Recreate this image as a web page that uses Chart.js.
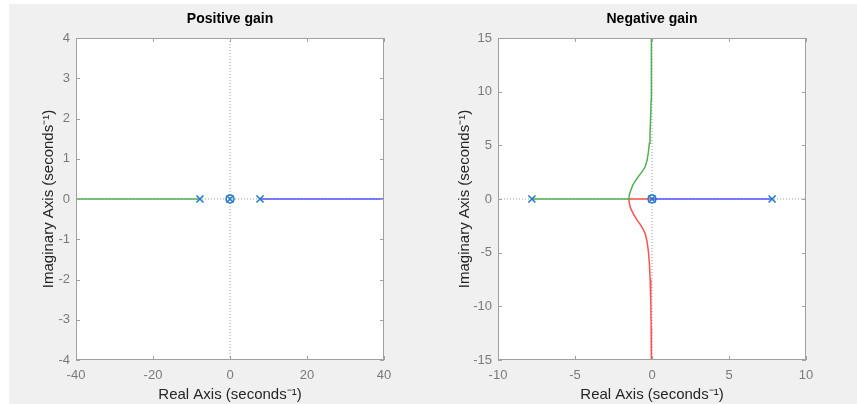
<!DOCTYPE html>
<html><head><meta charset="utf-8">
<script src="https://cdn.jsdelivr.net/npm/chart.js@4.4.1/dist/chart.umd.min.js"></script>
<style>
html,body{margin:0;padding:0;background:#fff;overflow:hidden;}
#bg{position:absolute;left:9px;top:4px;width:848px;height:400px;background:#f0f0f0;}
canvas{position:absolute;top:4px;}
#c1{left:9px;}
#c2{left:430px;}
</style></head><body>
<div id="bg"></div>
<canvas id="c1" width="421" height="400"></canvas>
<canvas id="c2" width="427" height="400"></canvas>
<script>
// ---- Data ----
const posTitle = 'Positive gain';
const negTitle = 'Negative gain';
const xAxisTitle = 'Real Axis (seconds\u207B\u00B9)';
const yAxisTitle = 'Imaginary Axis (seconds\u207B\u00B9)';

const posXTicks = [-40, -20, 0, 20, 40];
const posYTicks = [-4, -3, -2, -1, 0, 1, 2, 3, 4];
const negXTicks = [-10, -5, 0, 5, 10];
const negYTicks = [-15, -10, -5, 0, 5, 10, 15];

// Positive gain branches
const posGreenX = [-7.8, -40];
const posGreenY = [0, 0];
const posBlueX = [7.8, 40];
const posBlueY = [0, 0];
const posPoleX = [-7.8, 0, 7.8];
const posPoleY = [0, 0, 0];
const posZeroX = [0];
const posZeroY = [0];

// Negative gain branches
const negGreenX = [-7.8, -1.5, -1.47, -1.38, -1.25, -1.05, -0.85, -0.62, -0.45, -0.32, -0.24, -0.17, -0.13, -0.09, -0.06, -0.045, -0.035];
const negGreenY = [0, 0, 0.4, 0.8, 1.3, 1.75, 2.15, 2.6, 3.0, 3.6, 4.3, 5.2, 6.1, 7.5, 9.2, 12, 15];
const negRedX = [0, -1.5, -1.47, -1.38, -1.2, -1.0, -0.8, -0.6, -0.45, -0.33, -0.24, -0.17, -0.12, -0.08, -0.055, -0.04];
const negRedY = [0, 0, -0.4, -0.9, -1.4, -1.9, -2.3, -2.75, -3.2, -3.9, -4.8, -6, -7.5, -9.5, -12, -15];
const negBlueX = [7.8, 0];
const negBlueY = [0, 0];
const negPoleX = [-7.8, 0, 7.8];
const negPoleY = [0, 0, 0];
const negZeroX = [0];
const negZeroY = [0];

// ---- Helpers ----
const FONT = "'Liberation Sans', Arial, Helvetica, sans-serif";
const pts = (xs, ys) => xs.map((x, i) => ({x: x, y: ys[i]}));

const framePlugin = {
  id: 'frame',
  beforeDraw(chart) {
    const a = chart.chartArea, ctx = chart.ctx;
    ctx.save();
    ctx.fillStyle = '#ffffff';
    ctx.fillRect(a.left, a.top, a.right - a.left, a.bottom - a.top);
    ctx.restore();
  },
  afterDraw(chart) {
    const a = chart.chartArea, ctx = chart.ctx;
    const xs = chart.scales.x, ys = chart.scales.y;
    ctx.save();
    ctx.strokeStyle = '#a0a0a0';
    ctx.lineWidth = 1;
    ctx.beginPath();
    xs.ticks.forEach(t => {
      const p = Math.round(xs.getPixelForValue(t.value)) + 0.5;
      ctx.moveTo(p, a.bottom); ctx.lineTo(p, a.bottom - 4);
      ctx.moveTo(p, a.top); ctx.lineTo(p, a.top + 4);
    });
    ys.ticks.forEach(t => {
      const p = Math.round(ys.getPixelForValue(t.value)) + 0.5;
      ctx.moveTo(a.left, p); ctx.lineTo(a.left + 4, p);
      ctx.moveTo(a.right, p); ctx.lineTo(a.right - 4, p);
    });
    ctx.stroke();
    ctx.strokeRect(Math.round(a.left) + 0.5, Math.round(a.top) + 0.5,
      Math.round(a.right - a.left) - 1, Math.round(a.bottom - a.top) - 1);
    ctx.restore();
  }
};

function makeChart(id, cfg) {
  const xmin = cfg.xTicks[0], xmax = cfg.xTicks[cfg.xTicks.length - 1];
  const ymin = cfg.yTicks[0], ymax = cfg.yTicks[cfg.yTicks.length - 1];
  const lineDs = (data, color) => ({
    data: data, showLine: true, borderColor: color, borderWidth: 1.5,
    pointRadius: 0, fill: false, tension: 0, order: 5
  });
  const datasets = [
    {data: [{x: 0, y: ymin}, {x: 0, y: ymax}], showLine: true, borderColor: '#9a9a9a',
     borderWidth: 1, borderDash: [1, 2], pointRadius: 0, order: 10},
    {data: [{x: xmin, y: 0}, {x: xmax, y: 0}], showLine: true, borderColor: '#9a9a9a',
     borderWidth: 1, borderDash: [1, 2], pointRadius: 0, order: 10},
  ];
  cfg.lines.forEach(l => datasets.push(lineDs(l[0], l[1])));
  datasets.push({data: cfg.poles, showLine: false, pointStyle: 'crossRot', pointRadius: 5,
    borderColor: '#1f78c8', backgroundColor: '#1f78c8', borderWidth: 1.5, order: 1});
  datasets.push({data: cfg.zeros, showLine: false, pointStyle: 'circle', pointRadius: 4,
    borderColor: '#1f78c8', backgroundColor: 'rgba(0,0,0,0)', borderWidth: 1.5, order: 1});

  return new Chart(document.getElementById(id), {
    type: 'scatter',
    data: {datasets: datasets},
    options: {
      responsive: false, animation: false,
      layout: {padding: {left: 0, right: cfg.padRight, top: 0, bottom: 0}},
      plugins: {
        legend: {display: false}, tooltip: {enabled: false},
        title: {display: true, text: cfg.title, fullSize: false, color: '#000',
          font: {family: FONT, size: 14, weight: 'bold'}, padding: {top: 6.6, bottom: 10.6}}
      },
      scales: {
        x: {
          type: 'linear', min: xmin, max: xmax,
          afterBuildTicks: s => { s.ticks = cfg.xTicks.map(v => ({value: v})); },
          afterFit: s => { s.height = 44; },
          grid: {display: false, drawTicks: false},
          border: {display: false},
          ticks: {color: '#7a7a7a', font: {family: FONT, size: 13}, padding: 8, maxRotation: 0,
            callback: v => String(v)},
          title: {display: true, text: xAxisTitle, color: '#262626',
            font: {family: FONT, size: 15}, padding: {top: 0, bottom: 0}}
        },
        y: {
          type: 'linear', min: ymin, max: ymax,
          afterBuildTicks: s => { s.ticks = cfg.yTicks.map(v => ({value: v})); },
          afterFit: s => { s.width = cfg.yWidth; },
          grid: {display: false, drawTicks: false},
          border: {display: false},
          ticks: {color: '#7a7a7a', font: {family: FONT, size: 13}, padding: 6,
            callback: v => String(v)},
          title: {display: true, text: yAxisTitle, color: '#262626',
            font: {family: FONT, size: 15}, padding: {top: cfg.yTitlePad, bottom: 0}}
        }
      }
    },
    plugins: [framePlugin]
  });
}

makeChart('c1', {
  title: posTitle, xTicks: posXTicks, yTicks: posYTicks,
  padRight: 46, yWidth: 67, yTitlePad: 31,
  lines: [[pts(posGreenX, posGreenY), '#50b050'], [pts(posBlueX, posBlueY), '#5050ff']],
  poles: pts(posPoleX, posPoleY), zeros: pts(posZeroX, posZeroY)
});
makeChart('c2', {
  title: negTitle, xTicks: negXTicks, yTicks: negYTicks,
  padRight: 51, yWidth: 68, yTitlePad: 25.5,
  lines: [[pts(negGreenX, negGreenY), '#50b050'], [pts(negRedX, negRedY), '#ff5050'],
          [pts(negBlueX, negBlueY), '#5050ff']],
  poles: pts(negPoleX, negPoleY), zeros: pts(negZeroX, negZeroY)
});
</script>
</body></html>
